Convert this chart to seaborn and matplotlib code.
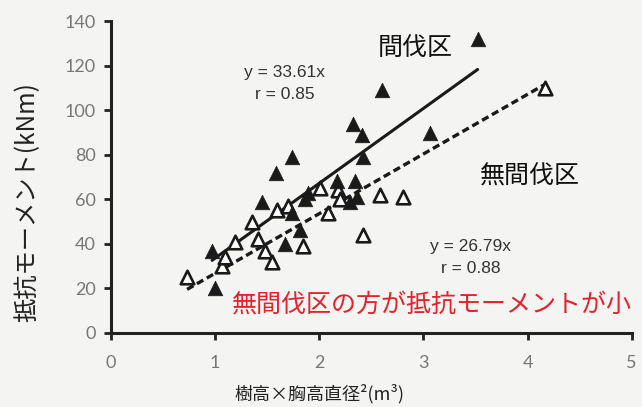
import numpy as np
import pandas as pd
import matplotlib
matplotlib.use("Agg")
import matplotlib.pyplot as plt
import seaborn as sns

# 間伐区 (thinned, filled triangles)
thin_x = [0.97, 1.00, 1.45, 1.58, 1.74, 1.67, 1.81, 1.74, 1.86, 1.89,
          2.17, 2.34, 2.36, 2.29, 2.42, 2.32, 2.41, 2.60, 3.06, 3.52]
thin_y = [37, 20, 59, 72, 79, 40, 46, 54, 60, 63,
          68, 68, 61, 59, 79, 94, 89, 109, 90, 132]

# 無間伐区 (unthinned, open triangles)
unthin_x = [0.73, 1.07, 1.09, 1.19, 1.35, 1.41, 1.48, 1.55, 1.59, 1.70,
            1.84, 2.01, 2.18, 2.20, 2.08, 2.42, 2.58, 2.80, 4.17]
unthin_y = [25, 30, 34, 41, 50, 42, 37, 32, 55, 57,
            39, 65, 64, 60, 54, 44, 62, 61, 110]

slopes = {"thin": 33.61, "unthin": 26.79}
r_vals = {"thin": 0.85, "unthin": 0.88}

x_ticks = [0, 1, 2, 3, 4, 5]
y_ticks = [0, 20, 40, 60, 80, 100, 120, 140]

sns.set_style("ticks")
plt.rcParams["font.family"] = ["Noto Sans CJK JP", "DejaVu Sans"]

bg = "#f4f4f2"
fig = plt.figure(figsize=(6.42, 4.07), dpi=100, facecolor=bg)
ax = fig.add_axes([0.173, 0.182, 0.811, 0.766])
ax.set_facecolor(bg)

df_t = pd.DataFrame({"x": thin_x, "y": thin_y})
df_u = pd.DataFrame({"x": unthin_x, "y": unthin_y})

# regression lines through origin
xt = np.array([min(thin_x), max(thin_x)])
xu = np.array([min(unthin_x), max(unthin_x)])
sns.lineplot(x=xt, y=slopes["thin"] * xt, ax=ax, color="#1a1a1a", lw=2.2, zorder=2)
ax.plot(xu, slopes["unthin"] * xu, color="#1a1a1a", lw=2.4, ls=(0, (2.2, 1.2)), zorder=2)

sns.scatterplot(data=df_u, x="x", y="y", ax=ax, marker="^", s=95,
                facecolor="white", edgecolor="#1a1a1a", linewidth=1.9, zorder=3)
sns.scatterplot(data=df_t, x="x", y="y", ax=ax, marker="^", s=110,
                color="#1a1a1a", edgecolor="#1a1a1a", linewidth=0.5, zorder=4)

ax.set_xlim(0, 5)
ax.set_ylim(0, 140)
ax.set_xticks(x_ticks)
ax.set_yticks(y_ticks)
ax.tick_params(axis="both", direction="out", length=5, width=2, color="#222222",
               labelsize=13, labelcolor="#777777")
ax.tick_params(axis="x", pad=11)
ax.tick_params(axis="y", pad=6)
for lab in ax.get_xticklabels() + ax.get_yticklabels():
    lab.set_family(["Lato", "DejaVu Sans"])
for side in ["top", "right"]:
    ax.spines[side].set_visible(False)
for side in ["left", "bottom"]:
    ax.spines[side].set_linewidth(2.2)
    ax.spines[side].set_color("#222222")

ax.set_xlabel("樹高×胸高直径²(m³)", fontsize=13, color="#222222")
ax.set_ylabel("抵抗モーメント(kNm)", fontsize=17.5, color="#222222")
ax.xaxis.set_label_coords(0.40, -0.165)
ax.yaxis.set_label_coords(-0.135, 0.42)

eq_font = ["Liberation Sans", "DejaVu Sans"]
ax.text(1.67, 117, f"y = {slopes['thin']}x", fontsize=12.5, ha="center", va="center",
        color="#333333", family=eq_font)
ax.text(1.67, 107, f"r = {r_vals['thin']}", fontsize=12.5, ha="center", va="center",
        color="#333333", family=eq_font)
ax.text(3.45, 39, f"y = {slopes['unthin']}x", fontsize=12.5, ha="center", va="center",
        color="#333333", family=eq_font)
ax.text(3.45, 29, f"r = {r_vals['unthin']}", fontsize=12.5, ha="center", va="center",
        color="#333333", family=eq_font)

ax.text(2.92, 128, "間伐区", fontsize=18, ha="center", va="center", color="#111111")
ax.text(4.02, 70, "無間伐区", fontsize=18, ha="center", va="center", color="#111111")

fig.text(232 / 642, 1 - 305 / 407, "無間伐区の方が抵抗モーメントが小", fontsize=18,
         ha="left", va="center", color="#e3222b")

fig.savefig("out.png", dpi=100, facecolor=bg)
